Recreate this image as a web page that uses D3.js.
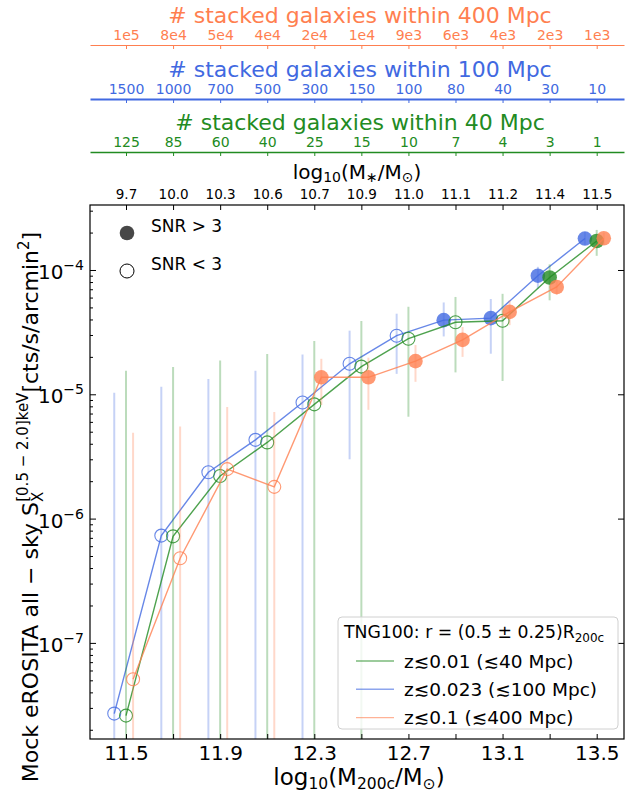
<!DOCTYPE html>
<html>
<head>
<meta charset="utf-8">
<script src="https://cdn.jsdelivr.net/npm/d3@7"></script>
<style>
  body { margin: 0; background: #fff; }
  text { font-family: "DejaVu Sans", sans-serif; }
</style>
</head>
<body>
<div id="chart"></div>
<script>
// halo mass bins (log10 M200c) and the labels of the top axes
const massBins = [11.5, 11.7, 11.9, 12.1, 12.3, 12.5, 12.7, 12.9, 13.1, 13.3, 13.5];
const xTickValues = [11.5, 11.9, 12.3, 12.7, 13.1, 13.5];
const mStarLabels = ["9.7", "10.0", "10.3", "10.6", "10.7", "10.9", "11.0", "11.1", "11.2", "11.4", "11.5"];
const n400Labels = ["1e5", "8e4", "5e4", "4e4", "2e4", "1e4", "9e3", "6e3", "4e3", "2e3", "1e3"];
const n100Labels = ["1500", "1000", "700", "500", "300", "150", "100", "80", "40", "30", "10"];
const n40Labels = ["125", "85", "60", "40", "25", "15", "10", "7", "4", "3", "1"];

// z<=0.01 (40 Mpc)
const sxGreen = [2.6e-8, 7.2e-7, 2.2e-6, 4.1e-6, 8.3e-6, 1.67e-5, 2.8e-5, 3.8e-5, 3.9e-5, 8.7e-5, 1.71e-4];
const loGreen = [0, 0, 0, 0, 0, 0, 6.6e-6, 1.5e-5, 1.28e-5, 5.7e-5, 1.3e-4];
const hiGreen = [1.55e-5, 1.66e-5, 1.87e-5, 2.11e-5, 2.68e-5, 3.89e-5, 5.06e-5, 6.07e-5, 6.43e-5, 1.11e-4, 2.1e-4];
const snrGreen = [0, 0, 0, 0, 0, 0, 0, 0, 0, 1, 1];

// z<=0.023 (100 Mpc)
const sxBlue = [2.7e-8, 7.3e-7, 2.36e-6, 4.3e-6, 8.6e-6, 1.76e-5, 2.96e-5, 3.95e-5, 4.1e-5, 9.0e-5, 1.79e-4];
const loBlue = [0, 0, 0, 0, 0, 3.0e-6, 1.46e-5, 2.92e-5, 2.12e-5, 7.07e-5, 1.59e-4];
const hiBlue = [1.03e-5, 1.15e-5, 1.33e-5, 1.55e-5, 2.09e-5, 3.25e-5, 4.45e-5, 5.48e-5, 5.84e-5, 1.06e-4, 2.02e-4];
const snrBlue = [0, 0, 0, 0, 0, 0, 0, 1, 1, 1, 1];

// z<=0.1 (400 Mpc)
const sxRed = [5.1e-8, 4.8e-7, 2.5e-6, 1.8e-6, 1.37e-5, 1.37e-5, 1.85e-5, 2.74e-5, 4.6e-5, 7.3e-5, 1.8e-4];
const loRed = [0, 0, 0, 0, 8.2e-6, 7.5e-6, 1.26e-5, 2.0e-5, 3.6e-5, 6.3e-5, 1.59e-4];
const hiRed = [4.9e-6, 5.5e-6, 7.9e-6, 7.2e-6, 1.93e-5, 1.97e-5, 2.49e-5, 3.48e-5, 5.7e-5, 8.3e-5, 1.99e-4];
const snrRed = [0, 0, 0, 0, 1, 1, 1, 1, 1, 1, 1];

const GREEN = "#228B22", BLUE = "#4169E1", RED = "#FF7F50";

// draw order: blue, green, red (red ends up on top)
const series = [
  { color: BLUE, dx: -0.05, v: sxBlue, lo: loBlue, hi: hiBlue, snr: snrBlue },
  { color: GREEN, dx: 0, v: sxGreen, lo: loGreen, hi: hiGreen, snr: snrGreen },
  { color: RED, dx: 0.03, v: sxRed, lo: loRed, hi: hiRed, snr: snrRed }
];

const W = 625, H = 792;
const L = 90, R = 624, T = 205, B = 739;

const x = d3.scaleLinear().domain([11.347, 13.616]).range([L, R]);
const y = d3.scaleLog().domain([1.686e-8, 3.333e-4]).range([B, T]);

const svg = d3.select("#chart").append("svg")
  .attr("width", W).attr("height", H);

svg.append("defs").append("clipPath").attr("id", "plotclip")
  .append("rect").attr("x", L).attr("y", T).attr("width", R - L).attr("height", B - T);

const plot = svg.append("g").attr("clip-path", "url(#plotclip)");

const yc = v => y(Math.max(v, y.domain()[0] * 0.5));

series.forEach(s => {
  const pts = massBins.map((m, i) => ({ m: m + s.dx, v: s.v[i], lo: s.lo[i], hi: s.hi[i], det: s.snr[i] }));

  // error bars
  plot.selectAll(null).data(pts).enter().append("line")
    .attr("x1", d => x(d.m)).attr("x2", d => x(d.m))
    .attr("y1", d => yc(d.lo)).attr("y2", d => y(d.hi))
    .attr("stroke", s.color).attr("stroke-width", 2).attr("stroke-opacity", 0.3);

  // connecting line
  plot.append("path").datum(pts)
    .attr("d", d3.line().x(d => x(d.m)).y(d => y(d.v)))
    .attr("fill", "none").attr("stroke", s.color)
    .attr("stroke-width", 1.4).attr("stroke-opacity", 0.8);

  // markers
  plot.selectAll(null).data(pts).enter().append("circle")
    .attr("cx", d => x(d.m)).attr("cy", d => y(d.v))
    .attr("r", d => d.det ? 7.3 : 6.5)
    .attr("fill", d => d.det ? s.color : "none")
    .attr("fill-opacity", 0.8)
    .attr("stroke", s.color)
    .attr("stroke-opacity", d => d.det ? 0 : 0.8)
    .attr("stroke-width", 1.1);
});

// frame
svg.append("rect").attr("x", L).attr("y", T).attr("width", R - L).attr("height", B - T)
  .attr("fill", "none").attr("stroke", "#000").attr("stroke-width", 1.2);

// bottom axis (ticks inward)
const xAxis = svg.append("g").attr("transform", `translate(0,${B})`)
  .call(d3.axisBottom(x).tickValues(xTickValues).tickFormat(d3.format(".1f"))
    .tickSize(-5).tickSizeOuter(0).tickPadding(7));
xAxis.select(".domain").remove();
xAxis.selectAll("text").attr("font-size", 20).attr("fill", "#000");

const minorX = massBins.filter(m => !xTickValues.some(t => Math.abs(t - m) < 1e-6));
svg.append("g").attr("transform", `translate(0,${B})`)
  .call(d3.axisBottom(x).tickValues(minorX).tickFormat("").tickSize(-5).tickSizeOuter(0))
  .select(".domain").remove();

// top axis of the frame: stellar mass
const mAxis = svg.append("g").attr("transform", `translate(0,${T})`)
  .call(d3.axisTop(x).tickValues(massBins).tickFormat((d, i) => mStarLabels[i])
    .tickSize(-5).tickSizeOuter(0).tickPadding(6));
mAxis.select(".domain").remove();
mAxis.selectAll("text").attr("font-size", 13.5).attr("fill", "#000");

// left axis (log)
const decades = [1e-7, 1e-6, 1e-5, 1e-4];
const minorY = [];
for (let e = -8; e <= -4; e++) {
  for (let k = 2; k <= 9; k++) {
    const v = k * Math.pow(10, e);
    if (v > y.domain()[0] && v < y.domain()[1]) minorY.push(v);
  }
}
const yAxis = svg.append("g").attr("transform", `translate(${L},0)`)
  .call(d3.axisLeft(y).tickValues(decades).tickFormat("").tickSize(-6).tickSizeOuter(0));
yAxis.select(".domain").remove();
svg.append("g").attr("transform", `translate(${L},0)`)
  .call(d3.axisLeft(y).tickValues(minorY).tickFormat("").tickSize(-3).tickSizeOuter(0))
  .select(".domain").remove();
svg.append("g").attr("transform", `translate(${R},0)`)
  .call(d3.axisRight(y).tickValues(decades).tickFormat("").tickSize(-6).tickSizeOuter(0))
  .select(".domain").remove();

decades.forEach(v => {
  const t = svg.append("text")
    .attr("x", L - 6).attr("y", y(v) + 9)
    .attr("text-anchor", "end").attr("font-size", 20);
  t.append("tspan").text("10");
  t.append("tspan").attr("dy", -9).attr("font-size", 14).text("−" + Math.round(-Math.log10(v)));
});

// y label
const yl = svg.append("text")
  .attr("transform", "translate(38,507) rotate(-90)")
  .attr("text-anchor", "middle").attr("font-size", 22);
yl.append("tspan").text("Mock eROSITA all − sky S");
yl.append("tspan").attr("font-size", 15).attr("dy", 5).text("X");
yl.append("tspan").attr("font-size", 15).attr("dx", -10).attr("dy", -15).text("[0.5 − 2.0]keV");
yl.append("tspan").attr("dy", 10).text("[cts/s/arcmin");
yl.append("tspan").attr("font-size", 15).attr("dy", -9).text("2");
yl.append("tspan").attr("dy", 9).text("]");

// x label
const xl = svg.append("text").attr("x", 359).attr("y", 785)
  .attr("text-anchor", "middle").attr("font-size", 23);
xl.append("tspan").text("log");
xl.append("tspan").attr("font-size", 15.5).attr("dy", 4).text("10");
xl.append("tspan").attr("dy", -4).text("(M");
xl.append("tspan").attr("font-size", 15.5).attr("dy", 4).text("200c");
xl.append("tspan").attr("dy", -4).text("/M");
xl.append("tspan").attr("font-size", 15.5).attr("dy", 4).text("⊙");
xl.append("tspan").attr("dy", -4).text(")");

// stellar mass label
const ml = svg.append("text").attr("x", 357).attr("y", 179)
  .attr("text-anchor", "middle").attr("font-size", 20);
ml.append("tspan").text("log");
ml.append("tspan").attr("font-size", 14).attr("dy", 3).text("10");
ml.append("tspan").attr("dy", -3).text("(M");
ml.append("tspan").attr("font-size", 14).attr("dy", 3).text("∗");
ml.append("tspan").attr("dy", -3).text("/M");
ml.append("tspan").attr("font-size", 14).attr("dy", 3).text("⊙");
ml.append("tspan").attr("dy", -3).text(")");

// number-of-galaxies axes on top
function countAxis(yPos, color, labels, title, titleY, lw) {
  const g = svg.append("g").attr("transform", `translate(0,${yPos})`)
    .call(d3.axisTop(x).tickValues(massBins).tickFormat((d, i) => labels[i])
      .tickSize(-4).tickSizeOuter(0).tickPadding(5));
  g.select(".domain").attr("stroke", color).attr("stroke-width", lw);
  g.selectAll(".tick line").attr("stroke", color);
  g.selectAll("text").attr("font-size", 14).attr("fill", color);
  svg.append("text").attr("x", 360).attr("y", titleY)
    .attr("text-anchor", "middle").attr("font-size", 22).attr("fill", color)
    .text(title);
}
countAxis(45, RED, n400Labels, "# stacked galaxies within 400 Mpc", 23, 1.2);
countAxis(99, BLUE, n100Labels, "# stacked galaxies within 100 Mpc", 77, 2);
countAxis(152, GREEN, n40Labels, "# stacked galaxies within 40 Mpc", 130, 1.5);

// SNR legend
svg.append("circle").attr("cx", 127).attr("cy", 233).attr("r", 7.3)
  .attr("fill", "#333").attr("fill-opacity", 0.9);
svg.append("circle").attr("cx", 127).attr("cy", 271).attr("r", 7)
  .attr("fill", "none").attr("stroke", "#000").attr("stroke-width", 1);
svg.append("text").attr("x", 151).attr("y", 232).attr("font-size", 17).text("SNR > 3");
svg.append("text").attr("x", 151).attr("y", 270).attr("font-size", 17).text("SNR < 3");

// series legend
const lg = svg.append("g");
lg.append("rect").attr("x", 338).attr("y", 617).attr("width", 280).attr("height", 112)
  .attr("rx", 4).attr("fill", "#fff").attr("fill-opacity", 0.8)
  .attr("stroke", "#d0d0d0").attr("stroke-width", 1);
const lt = lg.append("text").attr("x", 344).attr("y", 638).attr("font-size", 17.3);
lt.append("tspan").text("TNG100: r = (0.5 ± 0.25)R");
lt.append("tspan").attr("font-size", 12).attr("dy", 4).text("200c");

const legendNames = ["z≲0.01 (≲40 Mpc)", "z≲0.023 (≲100 Mpc)", "z≲0.1 (≲400 Mpc)"];
const legendColors = [GREEN, BLUE, RED];
legendNames.forEach((name, i) => {
  const cy = 661 + i * 28.3;
  lg.append("line").attr("x1", 356).attr("x2", 394).attr("y1", cy).attr("y2", cy)
    .attr("stroke", legendColors[i]).attr("stroke-width", 1.4).attr("stroke-opacity", 0.6);
  lg.append("text").attr("x", 404).attr("y", cy + 6.5).attr("font-size", 18.5).text(name);
});
</script>
</body>
</html>
